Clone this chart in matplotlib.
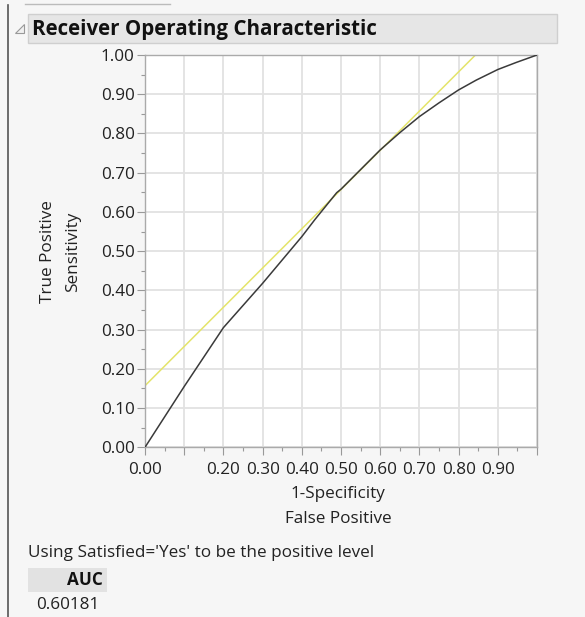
import numpy as np
import matplotlib.pyplot as plt
from matplotlib.patches import Rectangle, Polygon
from matplotlib.lines import Line2D
from matplotlib.ticker import MultipleLocator, FixedLocator, FixedFormatter

plt.rcParams['font.family'] = ['Open Sans', 'DejaVu Sans']

# ROC curve: 1-specificity vs sensitivity
fpr = [0.0, 0.10, 0.20, 0.30, 0.40, 0.433, 0.489, 0.50, 0.55, 0.60, 0.65, 0.70, 0.75, 0.80, 0.845, 0.90, 0.947, 1.0]
tpr = [0.0, 0.155, 0.305, 0.418, 0.537, 0.58, 0.649, 0.658, 0.708, 0.758, 0.802, 0.843, 0.878, 0.911, 0.936, 0.963, 0.981, 1.0]

# tangent line (slope 1) at the best cutoff
tangent_intercept = 0.157
tangent_slope = 1.0

x_ticks = [0.0, 0.1, 0.2, 0.3, 0.4, 0.5, 0.6, 0.7, 0.8, 0.9, 1.0]
x_labels = ["0.00", "", "0.20", "0.30", "0.40", "0.50", "0.60", "0.70", "0.80", "0.90", ""]
y_ticks = [0.0, 0.1, 0.2, 0.3, 0.4, 0.5, 0.6, 0.7, 0.8, 0.9, 1.0]
y_labels = ["%.2f" % v for v in y_ticks]

auc = 0.60181

W, H = 585, 617
fig = plt.figure(figsize=(W / 100, H / 100), dpi=100)
fig.patch.set_facecolor("#f6f6f6")

def fx(px):
    return px / W

def fy(py):
    return 1 - py / H

fs = 12.3

# frame pieces around the report
fig.add_artist(Line2D([fx(8), fx(8)], [fy(5), fy(617)], color="#555555", lw=1.2))
fig.add_artist(Line2D([fx(25), fx(170)], [fy(4), fy(4)], color="#bbbbbb", lw=1))
fig.add_artist(Rectangle((fx(28), fy(43)), fx(557 - 28), (43 - 14) / H,
                         facecolor="#e6e6e6", edgecolor="#cfcfcf", lw=1))
fig.add_artist(Polygon([[fx(24), fy(24)], [fx(24), fy(33)], [fx(15), fy(33)]],
                       closed=True, facecolor="#f0f0f0", edgecolor="#999999", lw=0.8))
fig.text(fx(32), fy(29), "Receiver Operating Characteristic", fontsize=14.8,
         fontweight="bold", color="#111111", va="center", ha="left")

left, right, top, bottom = 145, 537, 55, 447.3
ax = fig.add_axes([fx(left), fy(bottom), (right - left) / W, (bottom - top) / H])
ax.set_facecolor("white")

ax.plot(fpr, tpr, color="#3a3a3a", lw=1.1, zorder=3)
tx = np.array([0.0, (1 - tangent_intercept) / tangent_slope])
ax.plot(tx, tangent_intercept + tangent_slope * tx, color="#e4e46a", lw=1.1, zorder=2)

ax.set_xlim(0, 1)
ax.set_ylim(0, 1)
ax.xaxis.set_major_locator(FixedLocator(x_ticks))
ax.xaxis.set_major_formatter(FixedFormatter(x_labels))
ax.yaxis.set_major_locator(FixedLocator(y_ticks))
ax.yaxis.set_major_formatter(FixedFormatter(y_labels))
ax.xaxis.set_minor_locator(MultipleLocator(0.05))
ax.yaxis.set_minor_locator(MultipleLocator(0.05))
ax.tick_params(which="major", length=5.5, width=0.8, color="#999999",
               labelsize=fs, labelcolor="#222222", pad=2)
ax.tick_params(axis="x", which="major", pad=5)
ax.tick_params(which="minor", length=3, width=0.8, color="#999999")
ax.grid(True, which="major", color="#e2e2e2", lw=1.3)
ax.set_axisbelow(True)
for s in ax.spines.values():
    s.set_color("#aaaaaa")
    s.set_linewidth(1.0)

fig.text(fx(48), fy(252), "True Positive", rotation=90, fontsize=fs,
         color="#222222", ha="center", va="center")
fig.text(fx(73), fy(252), "Sensitivity", rotation=90, fontsize=fs,
         color="#222222", ha="center", va="center")
fig.text(fx(338), fy(494), "1-Specificity", fontsize=fs, color="#222222",
         ha="center", va="center")
fig.text(fx(338), fy(519), "False Positive", fontsize=fs, color="#222222",
         ha="center", va="center")

fig.text(fx(28), fy(553), "Using Satisfied='Yes' to be the positive level",
         fontsize=fs, color="#222222", ha="left", va="center")
fig.add_artist(Rectangle((fx(28), fy(592)), fx(107 - 28), (592 - 568) / H,
                         facecolor="#e2e2e2", edgecolor="none"))
fig.text(fx(103), fy(580), "AUC", fontsize=fs, fontweight="bold", color="#111111",
         ha="right", va="center")
fig.text(fx(36), fy(605), "%.5f" % auc, fontsize=fs, color="#222222",
         ha="left", va="center")

fig.savefig("out.png", dpi=100, facecolor=fig.get_facecolor())
